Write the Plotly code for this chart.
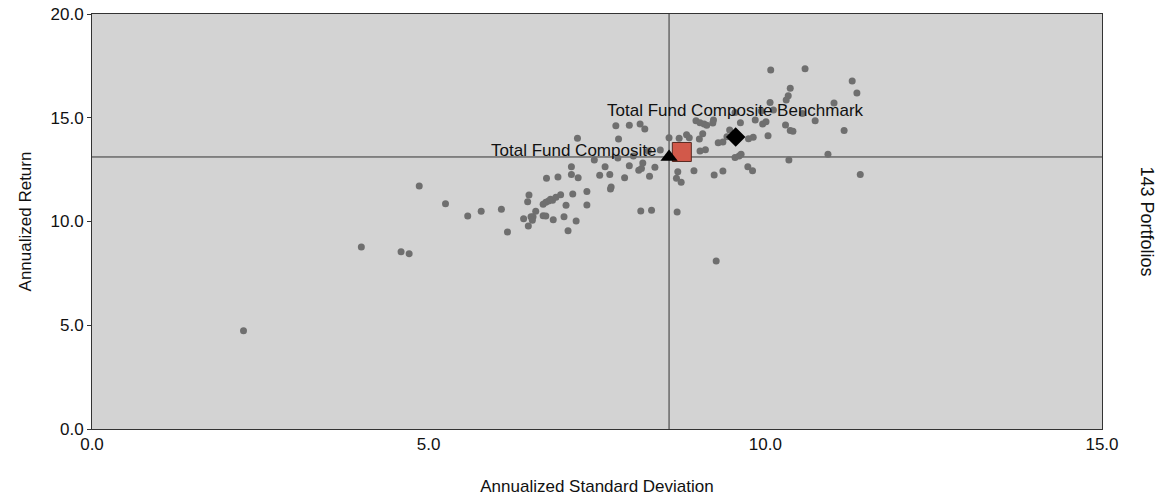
import plotly.graph_objects as go

# Universe of portfolios (annualized std dev, annualized return)
universe_sd = [
    4.86, 5.25, 5.58, 5.78, 4.00, 4.59, 4.71, 2.25, 6.08, 6.17,
    6.49, 6.47, 6.41, 6.48, 6.52, 6.55, 6.54, 6.59, 6.70, 6.74,
    6.78, 6.81, 6.84, 6.89, 6.96, 6.70, 6.74, 6.85, 7.04, 7.01,
    7.14, 7.19, 7.07, 7.35, 7.35, 7.12, 7.62, 6.75, 6.92, 7.12,
    7.22, 7.54, 7.69, 7.71, 7.70, 7.98, 8.12, 8.16, 8.18, 8.36,
    7.91, 8.28, 8.70, 8.94, 8.68, 8.75, 9.24, 9.37, 9.74, 8.15,
    8.31, 8.69, 9.27, 9.81, 11.41, 7.78, 7.98, 8.14, 8.21, 7.21,
    7.82, 8.57, 8.72, 8.83, 8.87, 8.97, 9.03, 9.09, 9.13, 9.23,
    9.22, 9.07, 9.02, 9.30, 9.43, 9.47, 9.37, 9.03, 9.11, 10.08,
    10.59, 11.29, 11.36, 10.37, 10.34, 10.31, 10.07, 10.12, 11.02, 10.74,
    11.17, 9.63, 9.85, 9.96, 10.01, 10.30, 10.37, 10.41, 10.04, 9.82,
    9.75, 9.55, 9.61, 9.64, 10.35, 10.93, 9.94, 7.81, 8.04, 8.26,
    7.46, 8.44, 9.55, 10.55,
]
universe_ret = [
    11.71, 10.86, 10.27, 10.49, 8.77, 8.54, 8.45, 4.74, 10.59, 9.49,
    11.28, 10.95, 10.13, 9.78, 10.23, 10.23, 10.06, 10.49, 10.83, 10.93,
    10.99, 11.07, 11.02, 11.17, 11.29, 10.28, 10.27, 10.09, 10.78, 10.23,
    11.33, 10.02, 9.56, 11.44, 10.80, 12.64, 12.64, 12.08, 12.14, 12.27,
    12.11, 12.23, 12.27, 11.66, 11.57, 12.69, 12.47, 12.56, 12.82, 12.61,
    12.11, 12.18, 12.40, 12.45, 12.08, 11.89, 12.24, 12.43, 12.64, 10.51,
    10.54, 10.46, 8.10, 12.45, 12.26, 14.62, 14.64, 14.70, 14.46, 14.01,
    13.98, 14.04, 14.01, 14.18, 14.04, 14.86, 14.76, 14.70, 14.64, 14.89,
    14.75, 14.23, 13.98, 13.80, 14.09, 14.41, 13.83, 13.40, 13.46, 17.30,
    17.36, 16.77, 16.19, 16.42, 16.06, 15.86, 15.74, 15.37, 15.71, 14.86,
    14.38, 14.76, 14.89, 14.70, 14.81, 14.65, 14.38, 14.35, 14.13, 14.06,
    13.99, 13.09, 13.16, 13.24, 12.96, 13.24, 15.33, 13.06, 13.16, 13.40,
    12.96, 13.45, 15.25, 15.20,
]

# Highlighted portfolios
composite_name = "Total Fund Composite"
composite_sd = [8.57]
composite_ret = [13.11]

benchmark_name = "Total Fund Composite Benchmark"
benchmark_sd = [9.56]
benchmark_ret = [14.07]

other_sd = [8.76]
other_ret = [13.35]

x_ticks = [0, 5, 10, 15]
y_ticks = [0, 5, 10, 15, 20]
universe_label = "143 Portfolios"

FONT = "Arial, Liberation Sans, sans-serif"
FS = 17

fig = go.Figure()
fig.add_trace(go.Scatter(
    x=universe_sd, y=universe_ret, mode="markers",
    marker=dict(color="#6f6f6f", size=7, line=dict(width=0)),
    hoverinfo="x+y", showlegend=False))

fig.add_trace(go.Scatter(
    x=other_sd, y=other_ret, mode="markers",
    marker=dict(symbol="square", color="#d2594a", size=19,
                line=dict(color="#5a2a22", width=1)),
    showlegend=False))

fig.add_trace(go.Scatter(
    x=composite_sd, y=composite_ret, mode="markers",
    marker=dict(symbol="triangle-up", color="black", size=15, line=dict(width=0)),
    showlegend=False))

fig.add_trace(go.Scatter(
    x=benchmark_sd, y=benchmark_ret, mode="markers",
    marker=dict(symbol="diamond", color="black", size=15, line=dict(width=0)),
    showlegend=False))

# Crosshair lines through the composite
fig.add_vline(x=composite_sd[0], line=dict(color="#333333", width=1), layer="below")
fig.add_hline(y=composite_ret[0], line=dict(color="#333333", width=1), layer="below")

fig.add_annotation(x=composite_sd[0], y=composite_ret[0], text=composite_name,
                   showarrow=False, xanchor="right", yanchor="middle",
                   xshift=-11, yshift=6, font=dict(family=FONT, size=FS, color="#111111"))
fig.add_annotation(x=benchmark_sd[0], y=benchmark_ret[0], text=benchmark_name,
                   showarrow=False, xanchor="center", yanchor="middle",
                   yshift=27, font=dict(family=FONT, size=FS, color="#111111"))

fig.add_annotation(xref="paper", yref="paper", x=1.0455, y=0.5, text=universe_label,
                   textangle=90, showarrow=False, xanchor="center", yanchor="middle",
                   font=dict(family=FONT, size=18, color="#111111"))

fig.update_layout(
    width=1170, height=498,
    margin=dict(l=84, r=76, t=6, b=77, autoexpand=False),
    plot_bgcolor="#d3d3d3", paper_bgcolor="white",
    font=dict(family=FONT, size=FS, color="#111111"),
)
fig.update_xaxes(
    range=[0, 15], tickvals=x_ticks, tickformat=".1f", showgrid=False,
    zeroline=False, showline=True, linecolor="#333333", linewidth=1, mirror=True,
    ticks="", automargin=False, ticklabeloverflow="allow",
    title=dict(text="Annualized Standard Deviation", standoff=26, font=dict(size=FS)),
    tickfont=dict(size=FS),
)
fig.update_yaxes(
    range=[0, 20], tickvals=y_ticks, tickformat=".1f", showgrid=False,
    zeroline=False, showline=True, linecolor="#333333", linewidth=1, mirror=True,
    ticks="outside", ticklen=4, tickcolor="#333333", automargin=False,
    ticklabeloverflow="allow",
    title=dict(text="Annualized Return", standoff=14, font=dict(size=FS)),
    tickfont=dict(size=FS),
)

fig.write_html("out.html")
